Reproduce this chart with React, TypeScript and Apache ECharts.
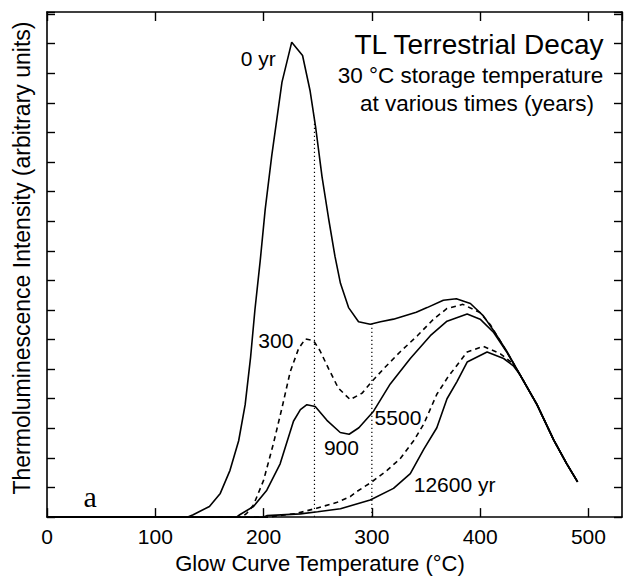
import React, { useEffect, useRef } from "react";
import * as echarts from "echarts";

// Glow curve temperature (°C) vs TL intensity (arbitrary units)
const xTickValues = [0, 100, 200, 300, 400, 500];

const curve0yr: [number, number][] = [
  [0, 0], [130, 0], [135, 0.08], [150, 0.36], [160, 0.8], [169, 1.58], [177, 2.58],
  [183, 3.8], [188, 5.4], [192, 7.0], [197, 8.7], [201.5, 10.4], [207.5, 12.2],
  [217, 14.7], [226, 16.05], [236, 15.6], [243, 14.4], [248, 13.2], [254, 11.5],
  [260, 10.1], [266, 8.8], [271, 7.9], [278.5, 7.08], [287.7, 6.6], [298.5, 6.52],
  [308, 6.6], [320, 6.69], [341, 6.92], [351, 7.08], [366, 7.33], [378, 7.38],
  [391, 7.22], [403, 6.8], [412.5, 6.3], [425, 5.58], [437, 4.8], [452.5, 3.8],
  [468, 2.6], [480, 1.8], [490, 1.19],
];

const curve300: [number, number][] = [
  [0, 0], [180, 0], [184.5, 0.13], [190.7, 0.41], [200, 1.24], [209, 2.47], [217, 3.69],
  [224.6, 4.91], [232.3, 5.69], [238.5, 6.02], [246, 5.97], [252, 5.63], [260, 5.02],
  [269, 4.36], [280, 3.97], [291, 4.19], [300, 4.58], [311, 5.02], [326, 5.58],
  [342, 6.13], [357, 6.69], [369.4, 7.05], [384, 7.19], [400, 6.91], [409.4, 6.5],
  [425, 5.56], [437, 4.8], [452.5, 3.8], [468, 2.6], [480, 1.8], [490, 1.19],
];

const curve900: [number, number][] = [
  [0, 0], [175, 0], [178, 0.08], [190.7, 0.36], [203, 0.91], [215.3, 1.8], [227.6, 3.24],
  [234, 3.63], [240, 3.8], [247.7, 3.74], [258.5, 3.27], [270.8, 2.86], [279, 2.8],
  [288, 3.02], [301.6, 3.58], [317, 4.5], [335.5, 5.36], [354, 6.13], [369.4, 6.62],
  [388, 6.86], [400, 6.69], [412.5, 6.24], [425, 5.55], [437, 4.8], [452.5, 3.8],
  [468, 2.6], [480, 1.8], [490, 1.19],
];

const curve5500: [number, number][] = [
  [0, 0], [205, 0], [212, 0.04], [230, 0.12], [249, 0.3], [268, 0.5], [280, 0.69],
  [286, 0.86], [300, 1.19], [314, 1.58], [326, 1.97], [338.6, 2.58], [348, 3.15],
  [360, 4.15], [370, 4.72], [388, 5.58], [403, 5.77], [418.7, 5.52], [430, 5.2],
  [437, 4.8], [452.5, 3.8], [468, 2.6], [480, 1.8], [490, 1.19],
];

const curve12600: [number, number][] = [
  [0, 0], [200, 0], [203, 0.05], [234, 0.11], [250, 0.18], [271, 0.28], [298.5, 0.58],
  [320, 0.97], [335.5, 1.47], [348, 2.3], [360, 3.02], [369.4, 4.0], [378.6, 4.58],
  [388, 5.24], [406.4, 5.58], [421.7, 5.36], [431, 5.1], [437, 4.8], [452.5, 3.8],
  [468, 2.6], [480, 1.8], [490, 1.19],
];

const dropLine250: [number, number][] = [[247, 0], [247, 13.4]];
const dropLine300: [number, number][] = [[300, 0], [300, 6.52]];

const curveLabels = [
  { text: "0 yr", x: 195, y: 15.5 },
  { text: "300", x: 211.3, y: 5.97 },
  { text: "900", x: 271.9, y: 2.35 },
  { text: "5500", x: 324.1, y: 3.38 },
  { text: "12600 yr", x: 376.4, y: 1.1 },
];

const panelLetter = { text: "a", x: 39.8, y: 0.7 };

const titleLines = [
  "TL Terrestrial Decay",
  "30 °C storage temperature",
  "at various times (years)",
];

export default function App() {
  const ref = useRef<HTMLDivElement>(null);

  useEffect(() => {
    if (!ref.current) return;
    const chart = echarts.init(ref.current, null, { renderer: "svg" });
    const font = "'Liberation Sans', Arial, Helvetica, sans-serif";
    const black = "#000";

    const line = (name: string, data: [number, number][], type: any, width = 1.6) => ({
      type: "line",
      name,
      data,
      showSymbol: false,
      symbol: "none",
      silent: true,
      lineStyle: { color: black, width, type },
    });

    const axisCommon = {
      axisLine: { show: true, onZero: false, lineStyle: { color: black, width: 1.6 } },
      splitLine: { show: false },
    };

    chart.setOption({
      animation: false,
      backgroundColor: "#fff",
      grid: { left: 47, right: 2, top: 12, bottom: 55, containLabel: false },
      xAxis: [
        {
          type: "value",
          position: "bottom",
          min: 0,
          max: 531,
          interval: 100,
          ...axisCommon,
          axisTick: { show: true, inside: true, length: 9, lineStyle: { color: black, width: 1.4 } },
          axisLabel: {
            color: black,
            fontSize: 21,
            fontFamily: font,
            margin: 9,
            showMaxLabel: false,
            formatter: (v: number) => (xTickValues.includes(v) ? String(v) : ""),
          },
          name: "Glow Curve Temperature (°C)",
          nameLocation: "middle",
          nameGap: 31,
          nameTextStyle: { color: black, fontSize: 22, fontFamily: font, padding: [0, 29, 0, 0] },
        },
        {
          type: "value",
          position: "top",
          min: 0,
          max: 531,
          interval: 100,
          ...axisCommon,
          axisTick: { show: true, inside: true, length: 9, lineStyle: { color: black, width: 1.4 } },
          axisLabel: { show: false },
        },
      ],
      yAxis: [
        {
          type: "value",
          position: "left",
          min: 0,
          max: 17.07,
          interval: 1,
          ...axisCommon,
          axisTick: { show: true, inside: true, length: 8, lineStyle: { color: black, width: 1.4 } },
          axisLabel: { show: false },
          name: "Thermoluminescence Intensity (arbitrary units)",
          nameLocation: "middle",
          nameGap: 14,
          nameTextStyle: { color: black, fontSize: 23, fontFamily: font, padding: [0, 0, 0, 13] },
        },
        {
          type: "value",
          position: "right",
          min: 0,
          max: 17.07,
          interval: 1,
          ...axisCommon,
          axisTick: { show: true, inside: true, length: 8, lineStyle: { color: black, width: 1.4 } },
          axisLabel: { show: false },
        },
      ],
      series: [
        line("0 yr", curve0yr, "solid"),
        line("300", curve300, [5, 4]),
        line("900", curve900, "solid"),
        line("5500", curve5500, [5, 4]),
        line("12600 yr", curve12600, "solid"),
        line("drop 250", dropLine250, [1.4, 2.6], 1.2),
        line("drop 300", dropLine300, [1.4, 2.6], 1.2),
      ],
    });

    const toPx = (x: number, y: number) =>
      chart.convertToPixel({ gridIndex: 0 }, [x, y]) as number[];

    const labelEls = curveLabels.map((l) => {
      const [px, py] = toPx(l.x, l.y);
      return {
        type: "text",
        x: px,
        y: py,
        silent: true,
        style: { text: l.text, fill: black, fontSize: 21, fontFamily: font, align: "center", verticalAlign: "middle" },
      };
    });
    const [ax, ay] = toPx(panelLetter.x, panelLetter.y);

    chart.setOption({
      graphic: [
        ...labelEls,
        {
          type: "text",
          x: ax,
          y: ay,
          silent: true,
          style: { text: panelLetter.text, fill: black, fontSize: 30, fontFamily: "'Liberation Serif', 'Times New Roman', serif", align: "center", verticalAlign: "middle" },
        },
        {
          type: "text", x: 479, y: 44, silent: true,
          style: { text: titleLines[0], fill: black, fontSize: 28, fontFamily: font, align: "center", verticalAlign: "middle" },
        },
        {
          type: "text", x: 470.5, y: 75, silent: true,
          style: { text: titleLines[1], fill: black, fontSize: 22.5, fontFamily: font, align: "center", verticalAlign: "middle" },
        },
        {
          type: "text", x: 477, y: 103, silent: true,
          style: { text: titleLines[2], fill: black, fontSize: 22.5, fontFamily: font, align: "center", verticalAlign: "middle" },
        },
      ],
    });

    return () => chart.dispose();
  }, []);

  return (
    <div
      ref={ref}
      style={{ position: "fixed", left: 0, top: 0, width: 624, height: 579, background: "#fff" }}
    />
  );
}
